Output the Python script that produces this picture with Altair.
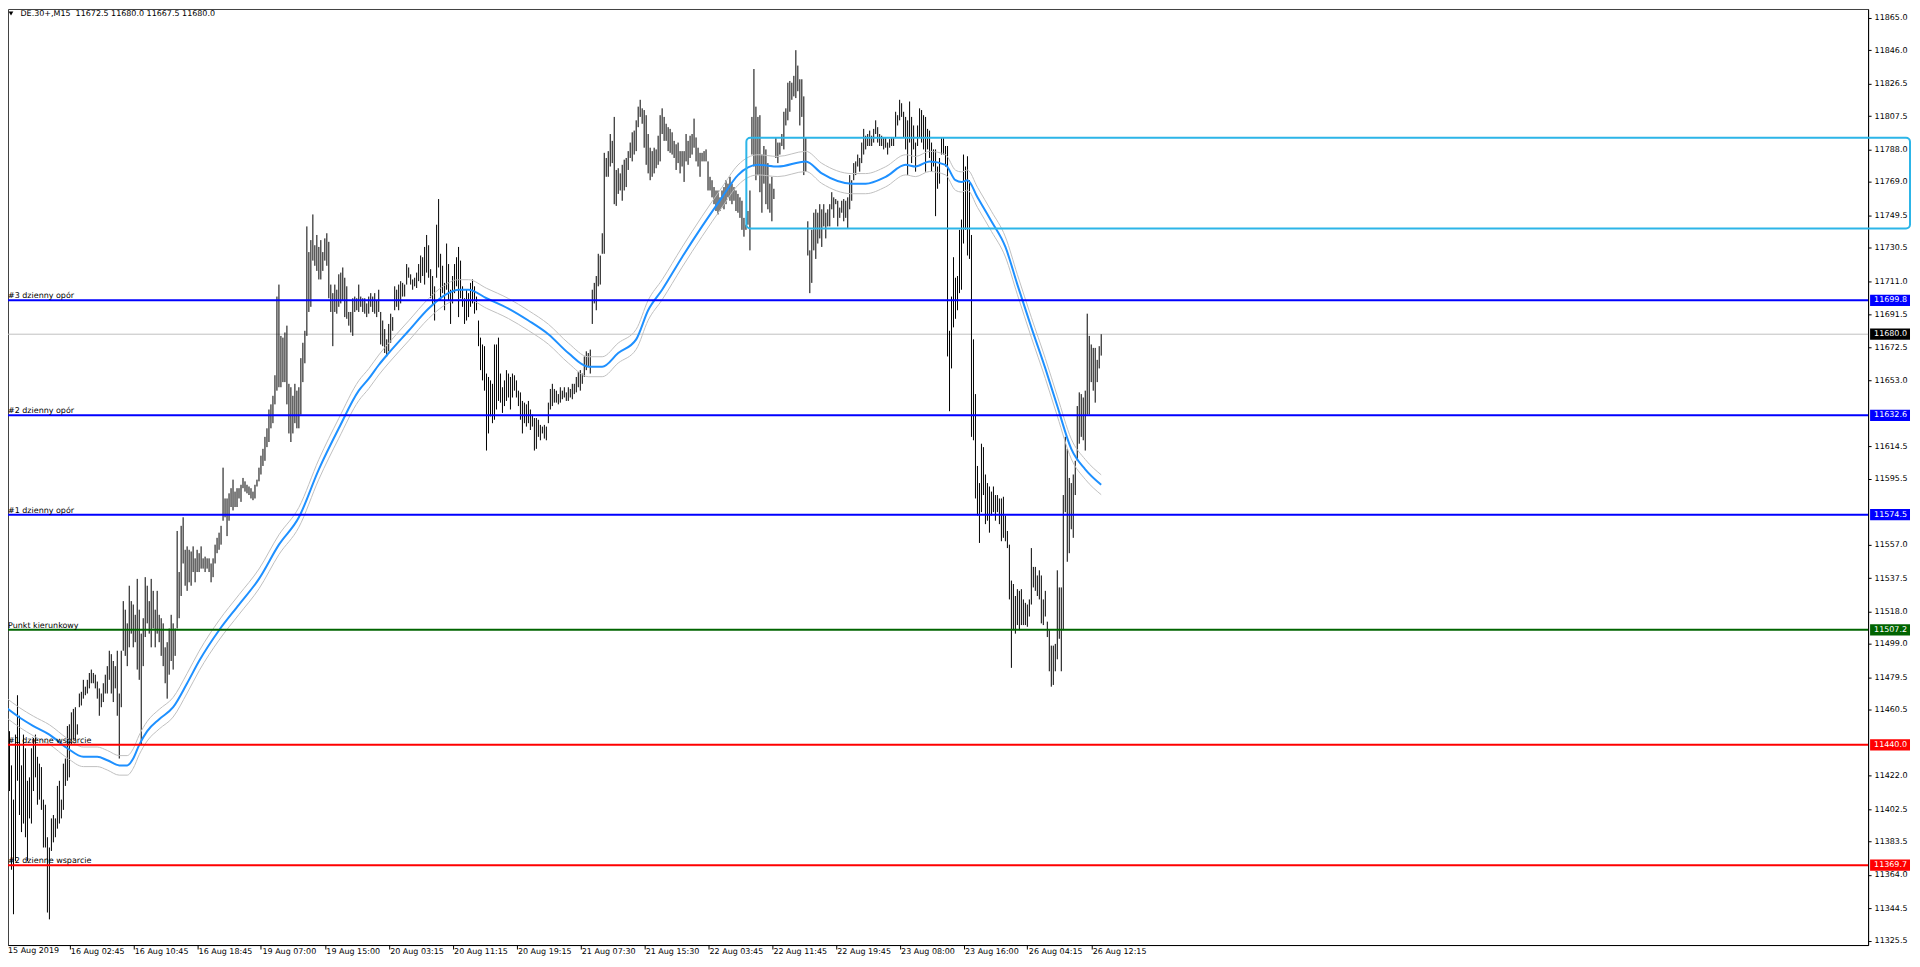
import altair as alt
import pandas as pd

# ---------------- data ----------------
high = [
    11462, 11465, 11448, 11428, 11408, 11446, 11469, 11457, 11428, 11446,
    11438, 11419, 11421, 11438, 11444, 11446, 11433, 11429, 11427, 11408,
    11405, 11386, 11380, 11397, 11399, 11397, 11416, 11419, 11408, 11429,
    11432, 11451, 11452, 11459, 11461, 11462, 11452, 11470, 11471, 11478,
    11474, 11478, 11482, 11484, 11482, 11481, 11477, 11473, 11470, 11476,
    11481, 11486, 11495, 11493, 11489, 11486, 11495, 11470, 11495, 11524,
    11519, 11511, 11533, 11524, 11522, 11516, 11537, 11519, 11505, 11514,
    11538, 11533, 11524, 11537, 11530, 11519, 11530, 11516, 11514, 11511,
    11497, 11500, 11508, 11516, 11511, 11508, 11565, 11541, 11568, 11573,
    11554, 11556, 11554, 11553, 11556, 11549, 11554, 11552, 11556, 11549,
    11550, 11549, 11549, 11546, 11549, 11557, 11561, 11564, 11568, 11602,
    11584, 11584, 11587, 11590, 11595, 11588, 11590, 11590, 11592, 11596,
    11594, 11592, 11591, 11590, 11588, 11592, 11595, 11602, 11609, 11613,
    11620, 11625, 11636, 11639, 11644, 11656, 11702, 11709, 11679, 11678,
    11681, 11685, 11651, 11649, 11644, 11651, 11647, 11649, 11666, 11675,
    11682, 11743, 11728, 11735, 11750, 11732, 11738, 11731, 11735, 11728,
    11736, 11739, 11734, 11709, 11704, 11709, 11706, 11715, 11716, 11719,
    11713, 11708, 11693, 11693, 11701, 11702, 11701, 11709, 11702, 11701,
    11701, 11698, 11702, 11704, 11702, 11704, 11700, 11706,
    11693, 11688, 11683, 11677, 11686, 11692, 11690, 11708, 11706, 11709,
    11711, 11710, 11709, 11721, 11719, 11715, 11712, 11713, 11716, 11721,
    11726, 11725, 11731, 11738, 11732, 11718, 11714, 11708, 11744, 11759,
    11727, 11720, 11710, 11733, 11721, 11706, 11714, 11721, 11725, 11731,
    11723, 11708, 11701, 11706, 11704, 11710, 11712, 11708, 11702, 11688,
    11678, 11674, 11673, 11657, 11655, 11653, 11651, 11674, 11674, 11678,
    11657, 11649, 11653, 11659, 11657, 11655, 11657, 11656, 11653, 11647,
    11646, 11641, 11640, 11639, 11641, 11636, 11633, 11631, 11631, 11630,
    11627, 11626, 11627, 11626, 11640, 11648, 11651, 11648, 11647, 11645,
    11649, 11647, 11649, 11646, 11649, 11648, 11651, 11651, 11655, 11658,
    11659, 11657, 11667, 11670, 11669, 11671, 11706, 11710, 11714, 11727,
    11726, 11739, 11786, 11783, 11787, 11797, 11793, 11807, 11776, 11777,
    11774, 11779, 11782, 11783, 11787, 11792, 11798, 11799, 11805, 11813,
    11817, 11812, 11811, 11808, 11797, 11789, 11787, 11789, 11788, 11796,
    11808, 11812, 11807, 11803, 11801, 11800, 11798, 11793, 11791, 11792,
    11787, 11787, 11787, 11797, 11793, 11796, 11797, 11806, 11795, 11789,
    11786, 11786, 11787, 11788, 11781, 11772, 11770, 11766, 11764, 11764,
    11760, 11764, 11766, 11770, 11768, 11772, 11768, 11766, 11764, 11762,
    11760, 11758, 11748, 11744, 11752, 11764,
    11807, 11835, 11813, 11807, 11808, 11785, 11790, 11788, 11780, 11768,
    11772, 11765, 11795, 11792, 11792, 11797, 11810, 11812, 11827, 11828,
    11827, 11831, 11846, 11837, 11829, 11829, 11819, 11795, 11746, 11729,
    11741, 11751, 11753, 11751, 11756, 11753, 11756, 11751, 11753, 11756,
    11763, 11760, 11759, 11758, 11754, 11758, 11759, 11758, 11760, 11773,
    11770, 11780, 11781, 11785, 11783, 11792, 11800, 11796, 11797, 11799,
    11796, 11800, 11805, 11801, 11797, 11796, 11795, 11795, 11792, 11794,
    11795, 11795, 11810, 11808, 11817, 11815, 11810, 11807, 11805, 11816,
    11807, 11802, 11792, 11802, 11812, 11811, 11808, 11807, 11800, 11799,
    11792, 11788, 11788, 11778, 11783, 11795, 11795, 11790, 11790, 11682,
    11702, 11725, 11713, 11714, 11741, 11747, 11785, 11778, 11784, 11770,
    11738, 11677, 11645, 11603, 11593, 11616, 11614, 11598, 11593, 11591,
    11588, 11591, 11586, 11586, 11584, 11584, 11585, 11574, 11565, 11557,
    11536, 11534, 11527, 11531, 11530, 11531, 11525, 11523, 11522, 11525,
    11555, 11544, 11544, 11539, 11542, 11539, 11525, 11530, 11512, 11507,
    11498, 11498, 11499, 11542, 11532, 11532, 11586, 11620, 11613, 11596,
    11593, 11598, 11606, 11638, 11646, 11645, 11643, 11647, 11692, 11679,
    11674, 11672, 11672, 11665, 11673, 11680.0,
]
low = [
    11397, 11432, 11413, 11367, 11341, 11372, 11419, 11399, 11389, 11394,
    11386, 11372, 11397, 11394, 11413, 11421, 11405, 11408, 11402, 11380,
    11380, 11342, 11338, 11378, 11383, 11386, 11391, 11394, 11397, 11402,
    11416, 11419, 11421, 11440, 11443, 11443, 11446, 11462, 11463, 11467,
    11469, 11470, 11473, 11476, 11476, 11473, 11467, 11457, 11462, 11465,
    11470, 11470, 11478, 11470, 11465, 11473, 11457, 11432, 11462, 11495,
    11492, 11486, 11497, 11505, 11497, 11500, 11484, 11478, 11440, 11486,
    11503, 11511, 11505, 11497, 11508, 11497, 11505, 11500, 11492, 11486,
    11476, 11467, 11481, 11489, 11484, 11492, 11508, 11514, 11527, 11546,
    11533, 11530, 11535, 11533, 11541, 11535, 11541, 11541, 11543, 11543,
    11541, 11543, 11541, 11535, 11538, 11546, 11552, 11554, 11557, 11571,
    11573, 11562, 11571, 11579, 11577, 11579, 11579, 11584, 11582, 11590,
    11588, 11587, 11586, 11584, 11583, 11584, 11591, 11594, 11598, 11603,
    11606, 11614, 11617, 11625, 11628, 11639, 11647, 11649, 11649, 11652,
    11652, 11639, 11622, 11617, 11622, 11628, 11625, 11625, 11633, 11652,
    11663, 11679, 11693, 11696, 11723, 11720, 11717, 11712, 11712, 11717,
    11723, 11720, 11701, 11693, 11673, 11693, 11692, 11696, 11698, 11700,
    11690, 11689, 11685, 11681, 11679, 11693, 11694, 11693, 11696, 11693,
    11692, 11690, 11692, 11696, 11693, 11692, 11690, 11693,
    11674, 11673, 11669, 11667, 11670, 11675, 11682, 11694, 11696, 11694,
    11698, 11702, 11702, 11709, 11713, 11709, 11706, 11708, 11707, 11711,
    11710, 11714, 11709, 11716, 11713, 11701, 11697, 11688, 11713, 11719,
    11700, 11704, 11694, 11706, 11700, 11686, 11698, 11704, 11708, 11690,
    11701, 11696, 11686, 11688, 11690, 11696, 11698, 11692, 11694, 11673,
    11659, 11653, 11647, 11612, 11622, 11632, 11628, 11630, 11636, 11641,
    11640, 11634, 11638, 11641, 11643, 11636, 11643, 11647, 11643, 11638,
    11630, 11622, 11628, 11626, 11628, 11624, 11626, 11612, 11613, 11620,
    11618, 11622, 11619, 11618, 11628, 11636, 11638, 11640, 11640, 11639,
    11640, 11642, 11643, 11641, 11641, 11643, 11642, 11645, 11646, 11649,
    11647, 11651, 11655, 11659, 11661, 11657, 11686, 11698, 11694, 11708,
    11709, 11727, 11727, 11772, 11772, 11778, 11780, 11756, 11755, 11762,
    11764, 11758, 11764, 11766, 11776, 11783, 11781, 11785, 11787, 11801,
    11807, 11803, 11789, 11779, 11774, 11770, 11772, 11774, 11777, 11779,
    11781, 11797, 11793, 11793, 11787, 11786, 11785, 11783, 11776, 11780,
    11774, 11778, 11769, 11781, 11779, 11783, 11785, 11789, 11781, 11778,
    11772, 11781, 11781, 11781, 11764, 11764, 11760, 11756, 11752, 11750,
    11752, 11754, 11753, 11756, 11760, 11758, 11756, 11758, 11752, 11751,
    11748, 11741, 11737, 11741, 11744, 11729,
    11785, 11778, 11770, 11773, 11763, 11751, 11768, 11756, 11753, 11751,
    11746, 11759, 11783, 11780, 11785, 11790, 11788, 11802, 11805, 11810,
    11817, 11819, 11818, 11822, 11802, 11807, 11773, 11775, 11726, 11704,
    11710, 11729, 11724, 11733, 11736, 11731, 11743, 11736, 11743, 11743,
    11753, 11748, 11756, 11743, 11748, 11751, 11746, 11748, 11742, 11753,
    11758, 11770, 11773, 11778, 11775, 11780, 11785, 11788, 11790, 11790,
    11790, 11792, 11797, 11792, 11790, 11790, 11788, 11789, 11785, 11789,
    11790, 11790, 11795, 11802, 11805, 11807, 11795, 11788, 11773, 11792,
    11780, 11788, 11775, 11790, 11795, 11792, 11788, 11775, 11788, 11783,
    11775, 11778, 11749, 11765, 11768, 11785, 11785, 11778, 11667, 11635,
    11660, 11684, 11689, 11694, 11704, 11706, 11733, 11741, 11726, 11724,
    11620, 11618, 11584, 11574, 11558, 11576, 11586, 11569, 11571, 11564,
    11574, 11576, 11571, 11576, 11569, 11559, 11561, 11559, 11555, 11525,
    11485, 11507, 11505, 11510, 11507, 11510, 11510, 11510, 11509, 11515,
    11522, 11532, 11530, 11527, 11525, 11511, 11510, 11515, 11503, 11483,
    11474, 11475, 11483, 11490, 11502, 11483, 11507, 11576, 11547, 11552,
    11566, 11561, 11586, 11606, 11616, 11620, 11618, 11612, 11633, 11633,
    11652, 11647, 11640, 11652, 11660, 11667.5,
]

ma_idx = [0, 7, 14, 22, 31, 39, 46, 51, 57, 61, 64, 67, 71, 77, 84, 91, 97, 107,
          117, 127, 137, 147, 157, 167, 177, 182, 187, 192, 202, 212, 219, 227,
          232, 241, 252, 262, 272, 282, 292, 299, 307, 316, 322, 329, 339, 349,
          359, 367, 377, 387, 401, 409, 424, 431, 441, 451, 456, 463, 471, 476,
          479, 482, 487, 494, 501, 507, 514, 521, 527, 534, 541, 549]
ma_val = [11462, 11456, 11451, 11446, 11438, 11433, 11433, 11431, 11428, 11428,
          11432, 11440, 11448, 11455, 11462, 11476, 11489, 11507, 11522, 11537,
          11557, 11573, 11601, 11625, 11647, 11654, 11662, 11669, 11682, 11695,
          11702, 11706, 11706, 11701, 11695, 11688, 11680, 11669, 11661, 11661,
          11669, 11677, 11694, 11706, 11725, 11743, 11760, 11773, 11779, 11778,
          11781, 11774, 11768, 11768, 11772, 11779, 11778, 11781, 11779, 11770,
          11769, 11770, 11760, 11746, 11731, 11709, 11684, 11660, 11638, 11613,
          11601, 11592]
envelope_pct = 0.05

x_tick_idx = [0, 32, 64, 96, 128, 160, 192, 224, 256, 288, 320, 352, 384, 416,
              448, 480, 512, 544]
x_tick_labels = ["15 Aug 2019", "16 Aug 02:45", "16 Aug 10:45", "16 Aug 18:45",
                 "19 Aug 07:00", "19 Aug 15:00", "20 Aug 03:15", "20 Aug 11:15",
                 "20 Aug 19:15", "21 Aug 07:30", "21 Aug 15:30", "22 Aug 03:45",
                 "22 Aug 11:45", "22 Aug 19:45", "23 Aug 08:00", "23 Aug 16:00",
                 "26 Aug 04:15", "26 Aug 12:15"]
y_ticks = [11865.0, 11846.0, 11826.5, 11807.5, 11788.0, 11769.0, 11749.5,
           11730.5, 11711.0, 11691.5, 11672.5, 11653.0, 11614.5, 11595.5,
           11557.0, 11537.5, 11518.0, 11499.0, 11479.5, 11460.5, 11422.0,
           11402.5, 11383.5, 11364.0, 11344.5, 11325.5]

level_names = ["#3 dzienny opór", "#2 dzienny opór", "#1 dzienny opór",
               "Punkt kierunkowy", "#1 dzienne wsparcie", "#2 dzienne wsparcie"]
level_values = [11699.8, 11632.6, 11574.5, 11507.2, 11440.0, 11369.7]
level_colors = ["#0000FF", "#0000FF", "#0000FF", "#006400", "#FF0000", "#FF0000"]
current_price = 11680.0

box_start_idx = 371.2
box_top = 11794.8
box_bottom = 11741.8

title_symbol = "DE.30+,M15"
title_ohlc = ["11672.5", "11680.0", "11667.5", "11680.0"]

# ---------------- layout ----------------
W, H = 1864, 938
FONT = "DejaVu Sans"
FS = 8
x_scale = alt.Scale(domain=[1.25, 1.25 + W / 2], nice=False, zero=False)
y_scale = alt.Scale(domain=[11323.0, 11870.07], nice=False, zero=False)

label_expr = "[" + ",".join(repr(s) for s in x_tick_labels) + "][round(datum.value/32)]"
x_axis = alt.Axis(values=x_tick_idx, labelExpr=label_expr, title=None, grid=False,
                  orient="bottom", tickSize=4, tickColor="black", domainColor="black",
                  labelFont=FONT, labelFontSize=FS, labelColor="black",
                  labelAlign="left", labelBaseline="top", labelPadding=-2,
                  labelOffset=1, labelFlush=False, labelOverlap=False)
y_axis = alt.Axis(values=y_ticks, format=".1f", title=None, grid=False,
                  orient="right", tickSize=3, tickColor="black", domainColor="black",
                  labelFont=FONT, labelFontSize=FS, labelColor="black",
                  labelPadding=3, labelFlush=False, labelOverlap=False)

X = lambda f: alt.X(f, type="quantitative", scale=x_scale, axis=x_axis)
Y = lambda f: alt.Y(f, type="quantitative", scale=y_scale, axis=y_axis)

bars_df = pd.DataFrame({"i": list(range(len(high))), "high": high, "low": low})
ma_df = pd.DataFrame({"i": ma_idx, "ma": ma_val})
lv_df = pd.DataFrame({"name": level_names, "price": level_values, "color": level_colors})
tag_df = pd.DataFrame({"price": level_values + [current_price],
                       "bg": level_colors + ["#000000"]})
cur_df = pd.DataFrame({"price": [current_price]})
box_df = pd.DataFrame({"i": [box_start_idx], "top": [box_top], "bot": [box_bottom]})
title_df = pd.DataFrame({"t": [title_symbol + "\u00a0\u00a0" + " ".join(title_ohlc)]})
first_label_df = pd.DataFrame({"t": [x_tick_labels[0]]})

cur_line = alt.Chart(cur_df).mark_rule(color="#C0C0C0", strokeWidth=1).encode(
    y=Y("price"), x=alt.value(0), x2=alt.value(W))

bars = alt.Chart(bars_df).mark_rule(color="black", strokeWidth=1).encode(
    x=X("i"), y=Y("high"), y2="low")

env_up = alt.Chart(ma_df).transform_calculate(
    v=f"datum.ma*(1+{envelope_pct}/100)").mark_line(
    color="#C0C0C0", strokeWidth=1, interpolate="monotone").encode(x=X("i"), y=Y("v"))
env_dn = alt.Chart(ma_df).transform_calculate(
    v=f"datum.ma*(1-{envelope_pct}/100)").mark_line(
    color="#C0C0C0", strokeWidth=1, interpolate="monotone").encode(x=X("i"), y=Y("v"))
ma_line = alt.Chart(ma_df).mark_line(color="#1E90FF", strokeWidth=2,
                                     interpolate="monotone").encode(
    x=X("i"), y=Y("ma"))

levels = alt.Chart(lv_df).mark_rule(strokeWidth=2).encode(
    y=Y("price"), x=alt.value(0), x2=alt.value(W),
    color=alt.Color("color:N", scale=None))
level_text = alt.Chart(lv_df).mark_text(
    align="left", baseline="alphabetic", dy=-2, font=FONT, fontSize=FS,
    color="black").encode(y=Y("price"), x=alt.value(0), text="name:N")

box = alt.Chart(box_df).mark_rect(
    fillOpacity=0, stroke="#2CB5E8", strokeWidth=2, cornerRadius=4).encode(
    x=X("i"), x2=alt.value(W + 42), y=Y("top"), y2="bot")

tags = alt.Chart(tag_df).transform_calculate(
    t="datum.price + 3.3", b="datum.price - 3.3").mark_rect().encode(
    x=alt.value(W + 2), x2=alt.value(W + 42), y=Y("t"), y2="b",
    color=alt.Color("bg:N", scale=None))
tag_text = alt.Chart(tag_df).mark_text(
    align="left", baseline="middle", font=FONT, fontSize=FS, color="white").encode(
    x=alt.value(W + 6), y=Y("price"), text=alt.Text("price:Q", format=".1f"))

first_label = alt.Chart(first_label_df).mark_text(
    align="left", baseline="top", font=FONT, fontSize=FS, color="black").encode(
    x=alt.value(0), y=alt.value(H + 2), text="t:N")

tri = alt.Chart(title_df).mark_point(shape="triangle-down", filled=True, size=22,
                                     color="black", opacity=1).encode(
    x=alt.value(3), y=alt.value(4.5))
title_text = alt.Chart(title_df).mark_text(
    align="left", baseline="middle", font=FONT, fontSize=FS, color="black").encode(
    x=alt.value(12.5), y=alt.value(4.8), text="t:N")

chart = alt.layer(cur_line, bars, env_up, env_dn, ma_line, levels, level_text,
                  box, tags, tag_text, first_label, tri, title_text).properties(
    width=W, height=H,
    autosize=alt.AutoSizeParams(type="none"),
    padding={"left": 0, "top": 0, "right": 44, "bottom": 16},
    background="white",
).configure_view(stroke="#404040", strokeWidth=1)

chart.save("out.html", embed_options={"renderer": "svg", "actions": False})
